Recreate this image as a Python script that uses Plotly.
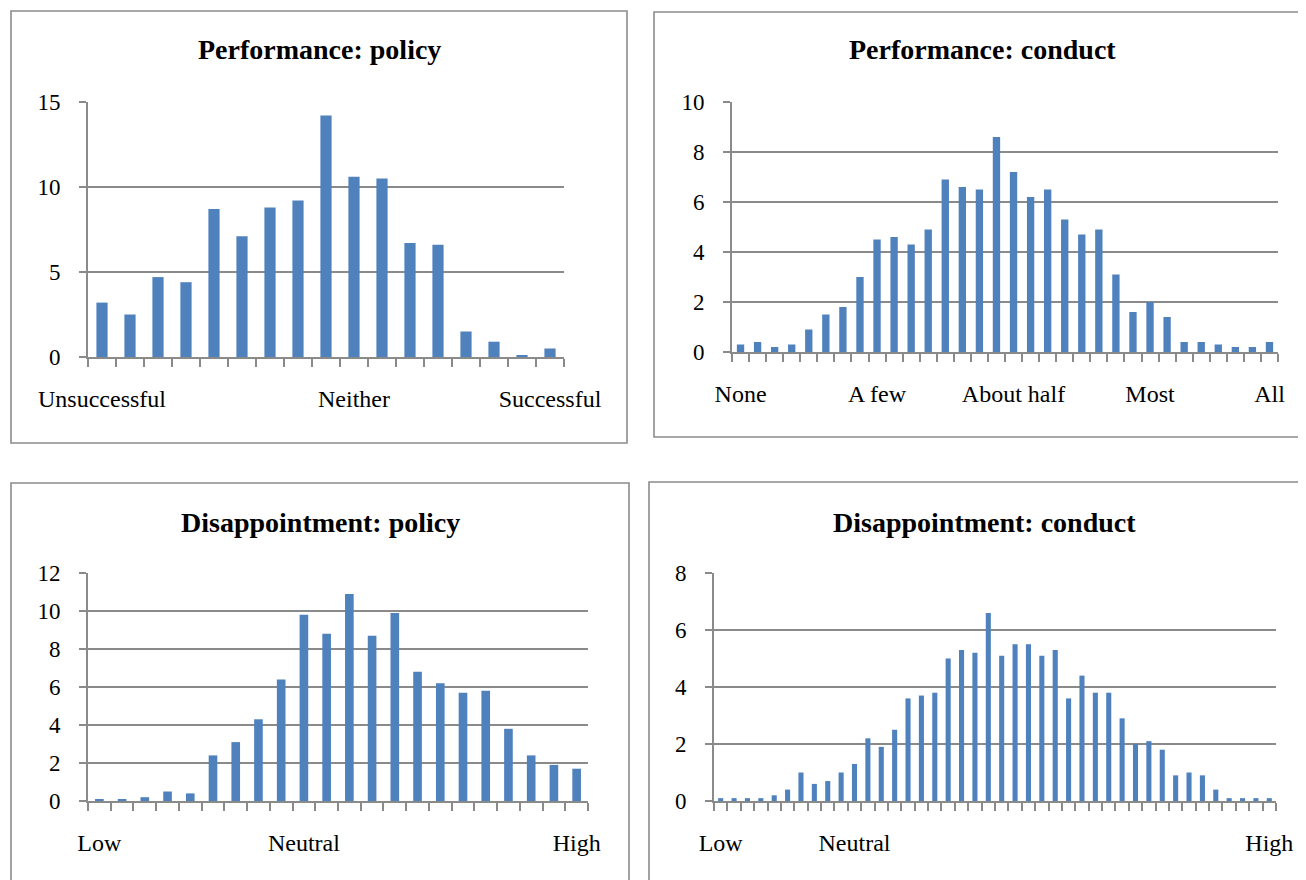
import plotly.graph_objects as go

# The page places the plot 8 px in from the top-left corner (default body margin),
# so the figure is made 8 px smaller and all pixel positions are shifted by 8.
OFF = 8
W, H = 1306 - OFF, 880 - OFF

# ---------------- data ----------------
perf_policy = [3.2, 2.5, 4.7, 4.4, 8.7, 7.1, 8.8, 9.2, 14.2, 10.6, 10.5, 6.7, 6.6, 1.5, 0.9, 0.1, 0.5]
perf_policy_label_pos = [1, 10, 17]
perf_policy_labels = ["Unsuccessful", "Neither", "Successful"]

perf_conduct = [0.3, 0.4, 0.2, 0.3, 0.9, 1.5, 1.8, 3.0, 4.5, 4.6, 4.3, 4.9, 6.9, 6.6, 6.5, 8.6,
                7.2, 6.2, 6.5, 5.3, 4.7, 4.9, 3.1, 1.6, 2.0, 1.4, 0.4, 0.4, 0.3, 0.2, 0.2, 0.4]
perf_conduct_label_pos = [1, 9, 17, 25, 32]
perf_conduct_labels = ["None", "A few", "About half", "Most", "All"]

disap_policy = [0.1, 0.1, 0.2, 0.5, 0.4, 2.4, 3.1, 4.3, 6.4, 9.8, 8.8, 10.9, 8.7, 9.9, 6.8,
                6.2, 5.7, 5.8, 3.8, 2.4, 1.9, 1.7]
disap_policy_label_pos = [1, 10, 22]
disap_policy_labels = ["Low", "Neutral", "High"]

disap_conduct = [0.1, 0.1, 0.1, 0.1, 0.2, 0.4, 1.0, 0.6, 0.7, 1.0, 1.3, 2.2, 1.9, 2.5, 3.6, 3.7,
                 3.8, 5.0, 5.3, 5.2, 6.6, 5.1, 5.5, 5.5, 5.1, 5.3, 3.6, 4.4, 3.8, 3.8, 2.9, 2.0,
                 2.1, 1.8, 0.9, 1.0, 0.9, 0.4, 0.1, 0.1, 0.1, 0.1]
disap_conduct_label_pos = [1, 11, 42]
disap_conduct_labels = ["Low", "Neutral", "High"]

titles = ["Performance: policy", "Performance: conduct",
          "Disappointment: policy", "Disappointment: conduct"]
y_max = [15, 10, 12, 8]
y_step = [5, 2, 2, 2]

# ---------------- layout (window pixels) ----------------
# plot areas: left, right, top, bottom
areas = [(88, 564, 102, 357), (732, 1278, 102, 352), (88, 588, 573, 801), (714, 1276, 573, 801)]
boxes = [(11, 627, 11, 443), (654, 1310, 12, 437), (11, 629, 483, 905), (649, 1321, 482, 905)]
title_y = [50, 50, 522, 522]
bar_w = [0.40, 0.43, 0.38, 0.38]

series = [perf_policy, perf_conduct, disap_policy, disap_conduct]
label_pos = [perf_policy_label_pos, perf_conduct_label_pos, disap_policy_label_pos, disap_conduct_label_pos]
labels = [perf_policy_labels, perf_conduct_labels, disap_policy_labels, disap_conduct_labels]

GRID = "#8a8a8a"
BAR = "#4F81BD"
FONT = "Liberation Serif"

def px(x):
    return (x - OFF) / W

def py(y):
    return 1 - (y - OFF) / H

fig = go.Figure()
shapes = []
annotations = []
for i in range(4):
    n = len(series[i])
    xs = list(range(1, n + 1))
    suffix = "" if i == 0 else str(i + 1)
    fig.add_trace(go.Bar(x=xs, y=series[i], marker=dict(color=BAR, line=dict(width=0)),
                         width=bar_w[i], xaxis="x" + suffix, yaxis="y" + suffix,
                         showlegend=False, hoverinfo="x+y"))
    l, r, t, b = areas[i]
    fig.layout["xaxis" + suffix] = dict(
        domain=[px(l), px(r)], anchor="y" + suffix, range=[0.5, n + 0.5],
        tickmode="array", tickvals=label_pos[i], ticktext=labels[i],
        ticks="outside", ticklen=0, showgrid=False, zeroline=False,
        showline=True, linecolor=GRID, linewidth=1.6,
        tickfont=dict(family=FONT, size=24, color="black"),
        ticklabelstandoff=19, automargin=False,
        minor=dict(ticks="outside", tick0=0.5, dtick=1, ticklen=8,
                   tickcolor=GRID, tickwidth=1.6, showgrid=False),
        fixedrange=True,
    )
    fig.layout["yaxis" + suffix] = dict(
        domain=[py(b), py(t)], anchor="x" + suffix, range=[0, y_max[i]],
        tickmode="linear", tick0=0, dtick=y_step[i],
        ticks="outside", ticklen=7, tickcolor=GRID, tickwidth=1.6,
        showgrid=True, gridcolor=GRID, gridwidth=1.6, zeroline=False,
        showline=True, linecolor=GRID, linewidth=1.6,
        tickfont=dict(family=FONT, size=23, color="black"),
        ticklabelstandoff=14, automargin=False,
        fixedrange=True,
    )
    bl, br, bt, bb = boxes[i]
    shapes.append(dict(type="rect", xref="paper", yref="paper",
                       x0=px(bl), x1=px(br), y0=py(bb), y1=py(bt),
                       line=dict(color="#8c8c8c", width=1.6), fillcolor="rgba(0,0,0,0)",
                       layer="below"))
    annotations.append(dict(text="<b>" + titles[i] + "</b>", xref="paper", yref="paper",
                            x=px((bl + br) / 2), y=py(title_y[i]), xanchor="center",
                            yanchor="middle", showarrow=False,
                            font=dict(family=FONT, size=28, color="black")))

fig.update_layout(
    width=W, height=H, margin=dict(l=0, r=0, t=0, b=0, autoexpand=False),
    paper_bgcolor="white", plot_bgcolor="white",
    shapes=shapes, annotations=annotations, showlegend=False,
)

fig.write_html("out.html")
